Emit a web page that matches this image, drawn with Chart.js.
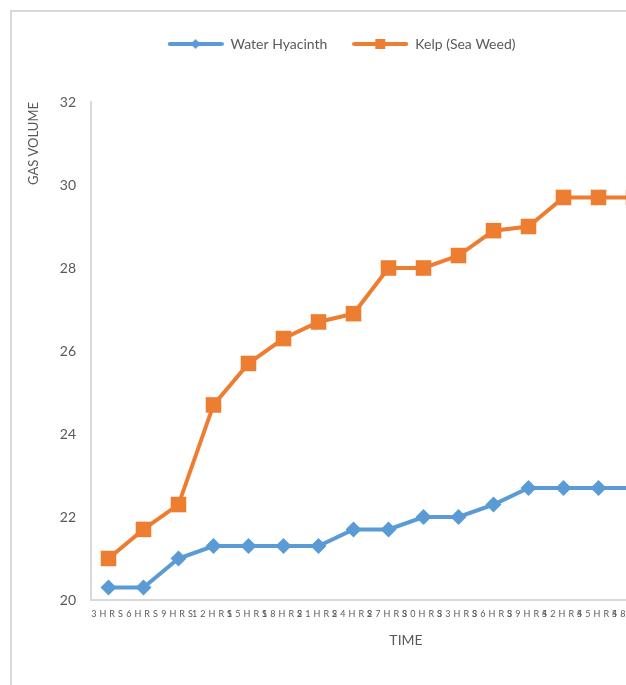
<!DOCTYPE html>
<html>
<head>
<meta charset="utf-8">
<script src="https://cdn.jsdelivr.net/npm/chart.js@4.4.1/dist/chart.umd.min.js"></script>
<style>
    html, body { margin: 0; padding: 0; overflow: hidden; background: #fff; }
    #frame {
        position: absolute; left: 10px; top: 10px; width: 720px; height: 720px;
        border-left: 2px solid #d9d9d9; border-top: 2px solid #d9d9d9;
    }
    #chart { position: absolute; left: 0; top: 0; }
</style>
</head>
<body>
<div id="frame"><canvas id="chart" width="660" height="673"></canvas></div>
<script>
const timeLabels = [
    '3HRS', '6HRS', '9HRS', '12HRS', '15HRS', '18HRS', '21HRS', '24HRS',
    '27HRS', '30HRS', '33HRS', '36HRS', '39HRS', '42HRS', '45HRS', '48HRS',
];
const waterHyacinth = [20.3, 20.3, 21.0, 21.3, 21.3, 21.3, 21.3, 21.7, 21.7, 22.0, 22.0, 22.3, 22.7, 22.7, 22.7, 22.7];
const kelp = [21.0, 21.7, 22.3, 24.7, 25.7, 26.3, 26.7, 26.9, 28.0, 28.0, 28.3, 28.9, 29.0, 29.7, 29.7, 29.7];
const yTicks = [20, 22, 24, 26, 28, 30, 32];

const blue = '#5B9BD5';
const orange = '#ED7D31';
const grey = '#595959';
const font = 'Lato, "Open Sans", sans-serif';

// line + marker sample for the legend
function legendMark(color, shape) {
    const c = document.createElement('canvas');
    c.width = 56;
    c.height = 14;
    const g = c.getContext('2d');
    g.strokeStyle = color;
    g.lineWidth = 4;
    g.lineCap = 'round';
    g.beginPath();
    g.moveTo(2, 7);
    g.lineTo(54, 7);
    g.stroke();
    g.fillStyle = color;
    if (shape === 'diamond') {
        g.beginPath();
        g.moveTo(28, 2);
        g.lineTo(33, 7);
        g.lineTo(28, 12);
        g.lineTo(23, 7);
        g.closePath();
        g.fill();
    } else {
        g.fillRect(23, 2, 10, 10);
    }
    return c;
}
const marks = [legendMark(blue, 'diamond'), legendMark(orange, 'square')];

const legendGap = {
    id: 'legendGap',
    beforeInit(chart) {
        const fit = chart.legend.fit;
        chart.legend.fit = function () {
            fit.bind(chart.legend)();
            this.height += 41;
        };
    },
    afterLayout(chart) {
        chart.legend.left += 10;
        chart.legend.right += 10;
    },
};

const timeTitle = {
    id: 'timeTitle',
    afterDraw(chart) {
        const { ctx, chartArea } = chart;
        ctx.save();
        ctx.font = '14px ' + font;
        ctx.fillStyle = grey;
        ctx.textAlign = 'center';
        ctx.textBaseline = 'middle';
        ctx.fillText('TIME', chartArea.left + (chartArea.right - chartArea.left) * 0.5625, chartArea.bottom + 40);
        ctx.restore();
    },
};

// Excel spreads the hour labels out; draw them with letter spacing
function spacedLabels(scale) {
    if (scale._spaced) return;
    scale._spaced = true;
    const draw = scale.drawLabels;
    scale.drawLabels = function (area) {
        this.ctx.save();
        this.ctx.letterSpacing = '3px';
        draw.call(this, area);
        this.ctx.restore();
    };
}

new Chart(document.querySelector('#chart'), {
    type: 'line',
    data: {
        labels: timeLabels,
        datasets: [
            {
                label: 'Water Hyacinth',
                data: waterHyacinth,
                borderColor: blue,
                backgroundColor: blue,
                borderWidth: 4,
                pointStyle: 'rectRot',
                pointRadius: 8,
                pointBorderWidth: 0,
                tension: 0,
            },
            {
                label: 'Kelp (Sea Weed)',
                data: kelp,
                borderColor: orange,
                backgroundColor: orange,
                borderWidth: 4,
                pointStyle: 'rect',
                pointRadius: 11,
                pointBorderWidth: 0,
                tension: 0,
            },
        ],
    },
    options: {
        responsive: false,
        animation: false,
        clip: false,
        layout: { padding: { top: 0, right: 21, bottom: 0, left: 0 } },
        plugins: {
            tooltip: { enabled: false },
            legend: {
                position: 'top',
                labels: {
                    usePointStyle: true,
                    pointStyleWidth: 56,
                    padding: 25,
                    color: grey,
                    font: { family: font, size: 14 },
                    generateLabels: chart => Chart.defaults.plugins.legend.labels.generateLabels(chart)
                        .map((item, i) => ({ ...item, pointStyle: marks[i] })),
                },
            },
        },
        scales: {
            x: {
                offset: true,
                grid: { display: false, drawTicks: false },
                border: { color: '#d9d9d9', width: 2 },
                ticks: {
                    autoSkip: false,
                    maxRotation: 0,
                    minRotation: 0,
                    padding: 9,
                    color: grey,
                    font: { family: font, size: 9 },
                },
                afterUpdate: spacedLabels,
                afterFit: s => { s.height = 85; },
            },
            y: {
                min: 20,
                max: 32,
                grid: { display: false, drawTicks: false },
                border: { color: '#d9d9d9', width: 2 },
                ticks: {
                    stepSize: 2,
                    padding: 15,
                    color: grey,
                    font: { family: font, size: 14 },
                    callback: v => yTicks.includes(v) ? v : '',
                },
                title: {
                    display: true,
                    text: 'GAS VOLUME',
                    align: 'end',
                    color: grey,
                    font: { family: font, size: 13 },
                    padding: { top: 14, bottom: 0 },
                },
                afterFit: s => { s.width = 79; },
            },
        },
    },
    plugins: [legendGap, timeTitle],
});
</script>
</body>
</html>
